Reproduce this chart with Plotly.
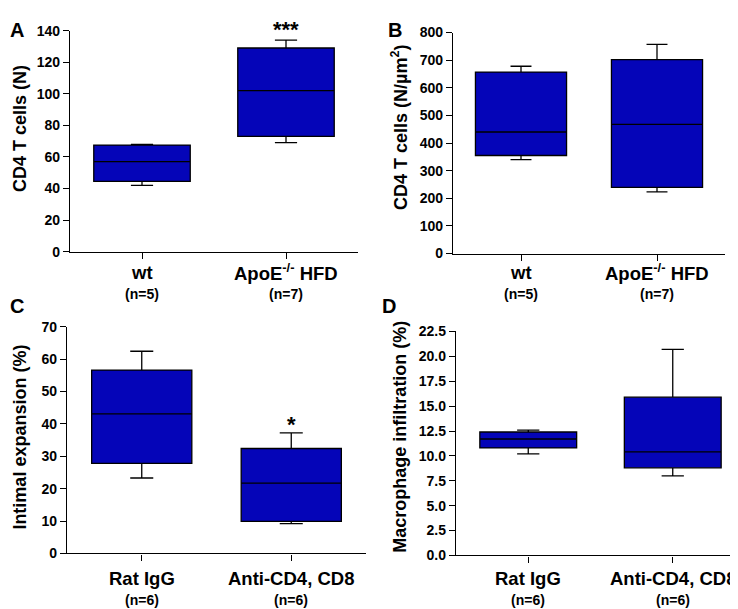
import plotly.graph_objects as go

W, H = 738, 609


def px(x):
    return x / W


def py(y):
    return 1 - y / H


# ---- data ----
cats_ab = ["wt", "ApoE-/- HFD"]
cats_ab_text = ["<b>wt</b>", "<b>ApoE<sup>-/-</sup> HFD</b>"]
n_ab = ["(n=5)", "(n=7)"]

a_low = [42, 69]
a_q1 = [44.5, 73]
a_med = [57, 102]
a_q3 = [67.5, 129]
a_high = [68, 134]

b_low = [340, 223]
b_q1 = [355, 240]
b_med = [440, 468]
b_q3 = [657, 702]
b_high = [678, 757]

cats_cd = ["Rat IgG", "Anti-CD4, CD8"]
n_cd = ["(n=6)", "(n=6)"]

c_low = [23.3, 9.2]
c_q1 = [27.8, 9.9]
c_med = [43.1, 21.7]
c_q3 = [56.6, 32.4]
c_high = [62.4, 37.2]

d_low = [10.2, 8.0]
d_q1 = [10.8, 8.8]
d_med = [11.7, 10.4]
d_q3 = [12.4, 15.9]
d_high = [12.6, 20.7]

titles = ["CD4 T cells (N)", "CD4 T cells (N/µm<sup>2</sup>)",
          "Intimal expansion (%)", "Macrophage infiltration (%)"]
letters = ["A", "B", "C", "D"]
y_ranges = [[0, 140], [0, 800], [0, 70], [0, 22.5]]
y_dticks = [20, 100, 10, 2.5]
y_formats = ["d", "d", "d", ".1f"]
stars = ["***", None, "*", None]

FILL = "#0505B8"
FONT = "Arial, Liberation Sans, sans-serif"

# pixel layout (left, right, top, bottom)
doms = [(62, 350, 15, 242), (445, 717, 17, 244),
        (59, 358, 319, 552), (448, 737, 324, 554)]
title_pos = [(12, 116), (392, 115), (12, 433), (392, 432)]
letter_pos = [(9, 14), (387, 14), (9, 298), (381, 298)]
label_y = [(263, 285), (263, 285), (578, 600), (578, 600)]
star_mid = [14, None, 420, None]

fig = go.Figure()

panels = [
    (cats_ab, cats_ab_text, n_ab, a_low, a_q1, a_med, a_q3, a_high),
    (cats_ab, cats_ab_text, n_ab, b_low, b_q1, b_med, b_q3, b_high),
    (cats_cd, ["<b>%s</b>" % c for c in cats_cd], n_cd, c_low, c_q1, c_med, c_q3, c_high),
    (cats_cd, ["<b>%s</b>" % c for c in cats_cd], n_cd, d_low, d_q1, d_med, d_q3, d_high),
]

layout = {}
annotations = []
for i, (cats, ctext, nlab, lo, q1, med, q3, hi) in enumerate(panels):
    k = i + 1
    xa = "x" if k == 1 else "x%d" % k
    ya = "y" if k == 1 else "y%d" % k
    fig.add_trace(go.Box(
        x=cats, q1=q1, median=med, q3=q3, lowerfence=lo, upperfence=hi,
        xaxis=xa, yaxis=ya, width=0.67, whiskerwidth=0.23,
        fillcolor=FILL, line=dict(color="black", width=1.3),
        boxpoints=False, hoverinfo="skip", showlegend=False))
    l, r, t, b = doms[i]
    layout["xaxis" if k == 1 else "xaxis%d" % k] = dict(
        domain=[px(l), min(px(r), 1)], anchor=ya, range=[-0.5, 1.5],
        showline=True, linecolor="black", linewidth=1.3,
        ticks="outside", ticklen=6, tickcolor="black", tickwidth=1.3,
        tickvals=cats, showticklabels=False, showgrid=False, zeroline=False)
    layout["yaxis" if k == 1 else "yaxis%d" % k] = dict(
        domain=[py(b), py(t)], anchor=xa, range=y_ranges[i],
        dtick=y_dticks[i], tick0=0, tickformat=y_formats[i],
        showline=True, linecolor="black", linewidth=1.3,
        ticks="outside", ticklen=6, tickcolor="black", tickwidth=1.3,
        showgrid=False, zeroline=False,
        tickfont=dict(family=FONT, size=14, color="black"),
        tickprefix="<b>", ticksuffix="</b>")
    # category labels and n labels
    y1, y2 = label_y[i]
    for c, ct, n in zip(cats, ctext, nlab):
        annotations.append(dict(
            text=ct, xref=xa, yref="paper", x=c, y=py(y1),
            xanchor="center", yanchor="middle", showarrow=False,
            font=dict(family=FONT, size=18.5, color="black")))
        annotations.append(dict(
            text="<b>%s</b>" % n, xref=xa, yref="paper", x=c, y=py(y2),
            xanchor="center", yanchor="middle", showarrow=False,
            font=dict(family=FONT, size=14, color="black")))
    tx, ty = title_pos[i]
    annotations.append(dict(
        text="<b>%s</b>" % titles[i], textangle=-90, xref="paper", yref="paper",
        x=px(tx), y=py(ty), xanchor="center", yanchor="middle",
        showarrow=False, font=dict(family=FONT, size=18, color="black")))
    lx, ly = letter_pos[i]
    annotations.append(dict(
        text="<b>%s</b>" % letters[i], xref="paper", yref="paper",
        x=px(lx), y=py(ly), xanchor="center", yanchor="middle",
        showarrow=False, font=dict(family=FONT, size=20, color="black")))
    if stars[i]:
        annotations.append(dict(
            text="<b>%s</b>" % stars[i], xref=xa, yref="paper", x=cats[1],
            y=py(star_mid[i]), xanchor="center", yanchor="middle",
            showarrow=False, font=dict(family=FONT, size=22, color="black")))

fig.update_layout(
    width=W, height=H, margin=dict(l=0, r=0, t=0, b=0),
    paper_bgcolor="white", plot_bgcolor="white",
    font=dict(family=FONT, color="black"),
    annotations=annotations, **layout)

fig.write_html("out.html")
